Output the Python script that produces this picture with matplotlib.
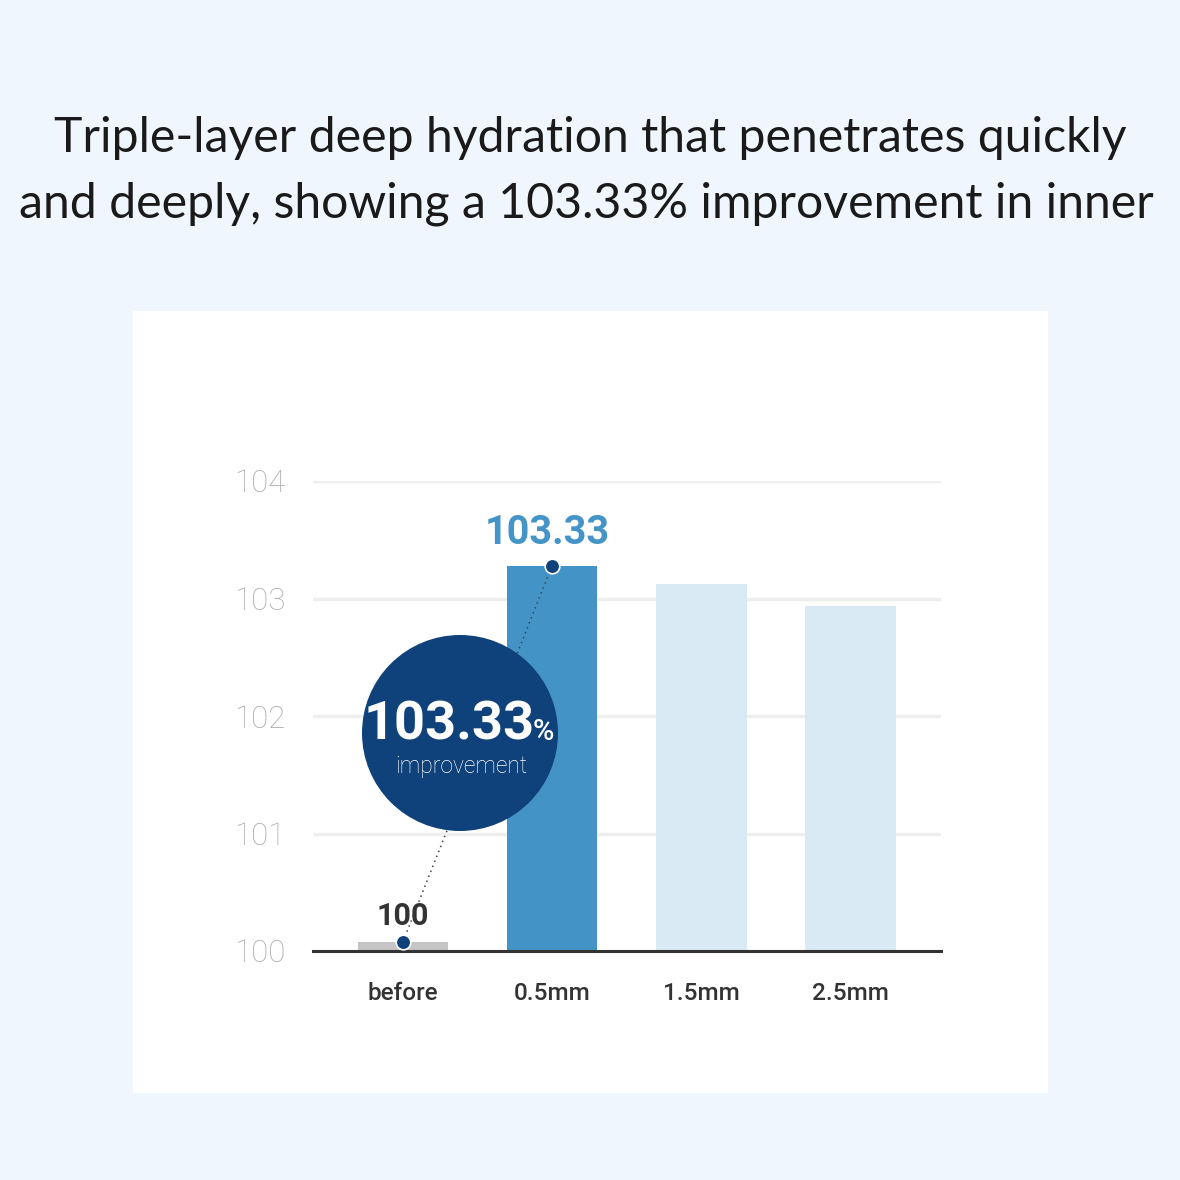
import numpy as np
import matplotlib.pyplot as plt
from matplotlib.patches import Circle, Rectangle

# data
categories = ["before", "0.5mm", "1.5mm", "2.5mm"]
values = [100.08, 103.28, 103.12, 102.94]
bar_colors = ["#c4c4c4", "#4393c6", "#d9eaf5", "#d9eaf5"]
yticks = [100, 101, 102, 103, 104]
title_lines = ["Triple-layer deep hydration that penetrates quickly",
               "and deeply, showing a 103.33% improvement in inner"]
before_label = "100"
peak_label = "103.33"
improve_pct = "103.33"

W = 1180
fig = plt.figure(figsize=(11.8, 11.8), dpi=100)
fig.patch.set_facecolor("#eff6fe")

# white panel behind the chart
fig.patches.append(Rectangle((133 / W, 1 - 1093 / W), 915 / W, 782 / W,
                             transform=fig.transFigure, facecolor="white",
                             edgecolor="none", zorder=-5))

fig.text(0.5, 1 - 152 / W, title_lines[0], ha="center", va="baseline",
         fontsize=34.7, family="Lato", color="#1a1a1a")
fig.text(0.497, 1 - 217 / W, title_lines[1], ha="center", va="baseline",
         fontsize=34.7, family="Lato", color="#1a1a1a")

ax = fig.add_axes([313 / W, 1 - 951 / W, 628 / W, 470 / W])
ax.set_facecolor("none")
x = np.arange(len(categories))
ax.bar(x, [v - 100 for v in values], bottom=100, width=0.61,
       color=bar_colors, zorder=2)
ax.set_xlim(-0.604, 3.61)
ax.set_ylim(100, 104)

for t in yticks[1:]:
    ax.axhline(t, color="#eeeeee", lw=2.5, zorder=1)
ax.axhline(100, color="#333333", lw=2.2, zorder=3, clip_on=False)

for s in ax.spines.values():
    s.set_visible(False)
ax.set_yticks(yticks)
ax.set_yticklabels([str(t) for t in yticks], family="Roboto", fontweight="light",
                   fontsize=22.5, color="#aaaaaa")
ax.set_xticks(x)
ax.set_xticklabels(categories, family="Roboto", fontweight="medium",
                   fontsize=17.5, color="#333333")
ax.tick_params(axis="y", length=0, pad=20)
ax.tick_params(axis="x", length=0, pad=22)

# dotted connector and dots
ax.plot([x[0], x[1]], [values[0], values[1]], ls=(0, (1, 2.5)), lw=1.1,
        color="#444444", zorder=4)
ax.scatter([x[0], x[1]], [values[0], values[1]], s=110, color="#0f417a",
           edgecolor="white", linewidth=1.2, zorder=6)

ax.text(x[0], 100.22, before_label, ha="center", va="baseline", family="Roboto",
        fontweight="bold", fontsize=22, color="#333333", zorder=7)
ax.text(x[1] - 0.03, 103.46, peak_label, ha="center", va="baseline", family="Roboto",
        fontweight="bold", fontsize=28.5, color="#4494c8", zorder=7)

# big circle badge
fig.patches.append(Circle((460 / W, 1 - 733 / W), 98 / W, transform=fig.transFigure,
                          facecolor="#0f417a", edgecolor="none", zorder=5))
fig.text(449 / W, 1 - 740 / W, improve_pct, ha="center", va="baseline",
         family="Roboto", fontweight="bold", fontsize=39, color="white", zorder=6)
fig.text(533 / W, 1 - 740 / W, "%", ha="left", va="baseline",
         family="Roboto", fontweight="medium", fontsize=21, color="white", zorder=6)
fig.text(461 / W, 1 - 773 / W, "improvement", ha="center", va="baseline",
         family="Roboto", fontweight="light", fontsize=16.5, color="white", zorder=6)

fig.savefig("out.png", dpi=100, facecolor=fig.get_facecolor())
